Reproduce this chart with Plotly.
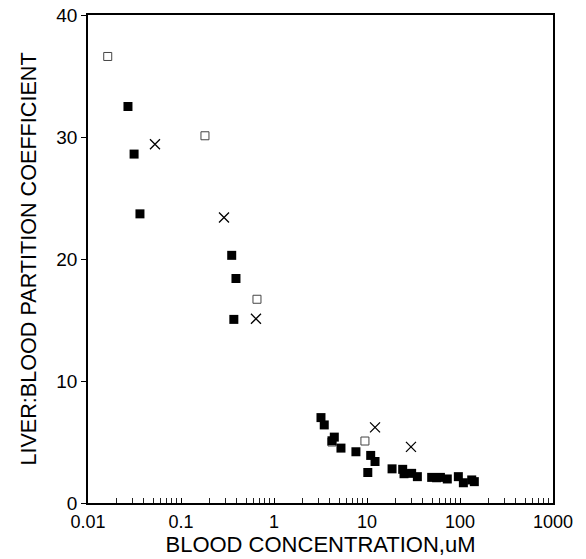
import plotly.graph_objects as go

# Filled squares
filled_x = [0.0269, 0.0313, 0.0362, 0.351, 0.39, 0.37,
            3.2, 3.47, 4.45, 4.2, 5.25, 7.6, 10.96, 12.2, 10.2, 18.6, 24.2, 25.0,
            30.2, 34.8, 49.6, 56.0, 61.6, 73.0, 96.0, 108.7, 133.7, 142.6]
filled_y = [32.5, 28.6, 23.7, 20.3, 18.4, 15.05,
            7.0, 6.4, 5.4, 5.1, 4.5, 4.2, 3.9, 3.4, 2.5, 2.8, 2.76, 2.4,
            2.43, 2.16, 2.1, 2.07, 2.1, 1.97, 2.16, 1.66, 1.89, 1.75]

# Open squares
open_x = [0.0163, 0.181, 0.656, 9.5, 4.2]
open_y = [36.6, 30.1, 16.7, 5.08, 5.0]

# X markers
cross_x = [0.0525, 0.29, 0.64, 12.2, 29.7]
cross_y = [29.4, 23.4, 15.1, 6.2, 4.6]

fig = go.Figure()
fig.add_trace(go.Scatter(x=open_x, y=open_y, mode="markers",
                         marker=dict(symbol="square-open", size=8, color="#444",
                                     line=dict(width=1, color="#444"))))
fig.add_trace(go.Scatter(x=filled_x, y=filled_y, mode="markers",
                         marker=dict(symbol="square", size=9, color="black")))
fig.add_trace(go.Scatter(x=cross_x, y=cross_y, mode="markers",
                         marker=dict(symbol="x-thin-open", size=10, color="black",
                                     line=dict(width=1.3, color="black"))))

font = "Liberation Sans, Arial, sans-serif"
fig.update_layout(
    width=586, height=559,
    margin=dict(l=88, r=33, t=15, b=56),
    paper_bgcolor="white", plot_bgcolor="white",
    showlegend=False,
    font=dict(family=font, size=18, color="black"),
)
fig.update_xaxes(
    type="log", range=[-2, 3],
    tickmode="linear", tick0=0, dtick=1,
    ticks="inside", ticklen=5, tickcolor="black", tickwidth=1,
    minor=dict(dtick="D1", ticks="inside", ticklen=5, tickwidth=1,
               tickcolor="#222", showgrid=False),
    showgrid=False, zeroline=False,
    showline=True, linecolor="black", linewidth=1.5, mirror=True,
    title=dict(text="BLOOD CONCENTRATION,uM", font=dict(size=22), standoff=0),
    tickfont=dict(size=18),
    ticklabelstandoff=2,
    ticklabeloverflow="allow",
    automargin=False,
)
fig.update_yaxes(
    range=[0, 40], tickvals=[0, 10, 20, 30, 40],
    ticks="outside", ticklen=5, tickcolor="black",
    showgrid=False, zeroline=False,
    showline=True, linecolor="black", linewidth=1.5, mirror=True,
    title=dict(text="LIVER:BLOOD PARTITION COEFFICIENT", font=dict(size=21.6), standoff=14),
    tickfont=dict(size=19),
    ticklabeloverflow="allow",
    automargin=False,
)
fig.write_html("out.html",
               config={"displayModeBar": False},
               post_script="document.body.style.margin='0';document.body.style.padding='0';")
